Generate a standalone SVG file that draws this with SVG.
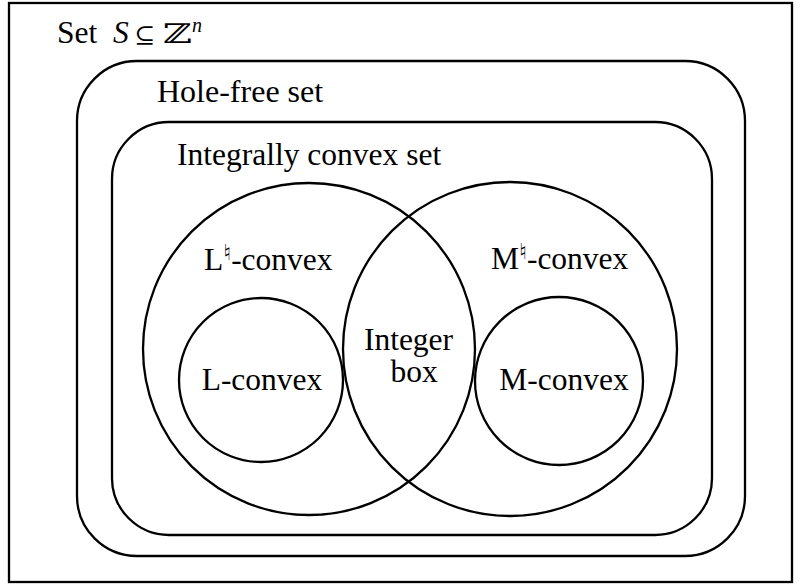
<svg xmlns="http://www.w3.org/2000/svg" width="802" height="586" viewBox="0 0 802 586">
<defs>
<style>
.s{fill:none;stroke:#000;stroke-width:2.3}
.t{font-family:'Liberation Serif','Times New Roman',serif;font-size:31.5px;fill:#000}
.m{font-family:'DejaVu Serif',serif}
.n{font-family:'DejaVu Sans',sans-serif;font-size:22px}
</style>
</defs>
<rect width="802" height="586" fill="#fff"/>
<g id="set-S">
<rect class="s" x="9" y="3" width="783" height="579" stroke-width="1.8"/>
<text class="t" x="57" y="43">Set <tspan font-style="italic" x="113">S</tspan></text>
<text class="t m" x="134" y="43" style="font-size:24px" textLength="21" lengthAdjust="spacingAndGlyphs">⊆</text>
<text class="t m" x="163" y="43" style="font-size:27px" textLength="29" lengthAdjust="spacingAndGlyphs">ℤ</text>
<text class="t" x="192" y="32" style="font-size:20px" font-style="italic">n</text>
</g>
<g id="hole-free">
<rect class="s" x="77" y="61" width="668" height="495" rx="60" ry="60"/>
<text class="t" x="157" y="102" style="font-size:32px">Hole-free set</text>
</g>
<g id="integrally-convex">
<rect class="s" x="112" y="122" width="600" height="413" rx="57" ry="57"/>
<text class="t" x="177" y="165">Integrally convex set</text>
</g>
<g id="L-natural">
<circle class="s" cx="309" cy="349" r="166"/>
<text class="t" x="204" y="270">L<tspan class="n" dy="-10">♮</tspan><tspan dy="10">-convex</tspan></text>
</g>
<g id="M-natural">
<circle class="s" cx="510" cy="349" r="167"/>
<text class="t" x="491" y="269">M<tspan class="n" dy="-10">♮</tspan><tspan dy="10">-convex</tspan></text>
</g>
<g id="L-convex">
<circle class="s" cx="261" cy="380" r="82"/>
<text class="t" x="262" y="390" text-anchor="middle">L-convex</text>
</g>
<g id="M-convex">
<circle class="s" cx="559" cy="381" r="84"/>
<text class="t" x="564" y="390" text-anchor="middle">M-convex</text>
</g>
<g id="integer-box">
<text class="t" x="408.5" y="350" text-anchor="middle">Integer</text>
<text class="t" x="414" y="382" text-anchor="middle">box</text>
</g>
<g id="connectors"></g>
</svg>
